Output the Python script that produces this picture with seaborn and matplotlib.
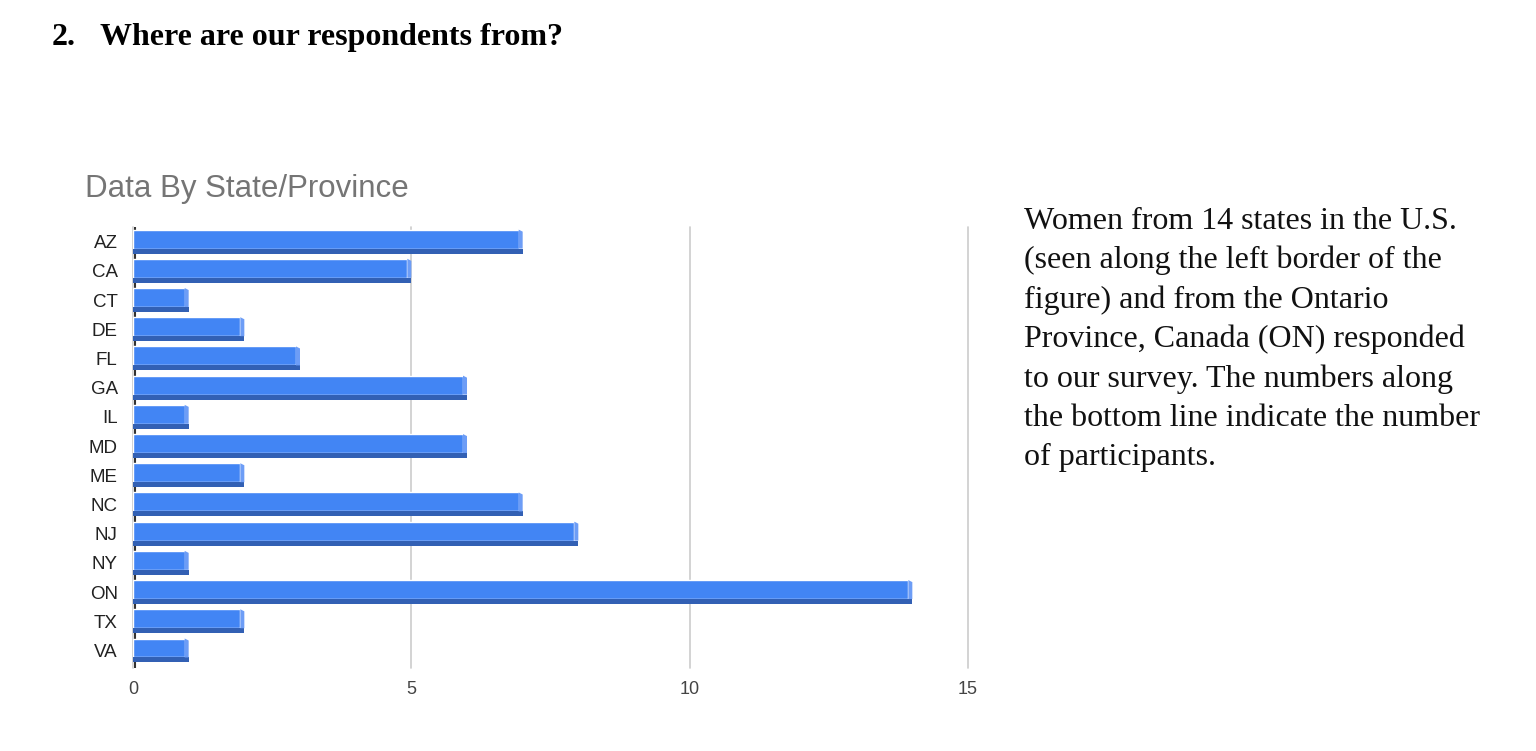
import matplotlib
matplotlib.use("Agg")
import matplotlib.pyplot as plt
import seaborn as sns
from matplotlib.patches import Rectangle, Polygon

# data
states = ["AZ", "CA", "CT", "DE", "FL", "GA", "IL", "MD",
          "ME", "NC", "NJ", "NY", "ON", "TX", "VA"]
counts = [7, 5, 1, 2, 3, 6, 1, 6, 2, 7, 8, 1, 14, 2, 1]
x_ticks = [0, 5, 10, 15]

heading_num = "2."
heading = "Where are our respondents from?"
chart_title = "Data By State/Province"
note_lines = [
    "Women from 14 states in the U.S.",
    "(seen along the left border of the",
    "figure) and from the Ontario",
    "Province, Canada (ON) responded",
    "to our survey. The numbers along",
    "the bottom line indicate the number",
    "of participants.",
]

BLUE = "#4285f4"
DARK = "#3260b4"
LIGHT = "#6d9df6"

sns.set_style("white")
plt.rcParams["font.family"] = ["Liberation Sans", "DejaVu Sans"]
plt.rcParams["text.color"] = "black"

fig = plt.figure(figsize=(15.36, 7.51), dpi=100)
ax = fig.add_axes([133 / 1536, 83 / 751, 835 / 1536, 441 / 751])

sns.barplot(
    x=counts,
    y=states,
    color=BLUE,
    width=0.82,
    saturation=1,
    ax=ax,
    zorder=3
)

ax.set_xlim(0, 15)
ax.set_ylim(14.6, -0.5)

# fake 3D look: dark bottom edge + lighter right face
dx = 4 * 15 / 835
dh = 5 * 15.1 / 441
dy = 2 * 15.1 / 441
for p in list(ax.patches):
    x0, y0 = p.get_x(), p.get_y()
    w, h = p.get_width(), p.get_height()
    p.set_width(w - dx)
    p.set_height(h - dh)
    ax.add_patch(Rectangle((x0, y0 + h - dh), w, dh,
                           facecolor=DARK, edgecolor="none", zorder=3))
    ax.add_patch(Polygon([(x0 + w - dx, y0), (x0 + w, y0 + dy),
                          (x0 + w, y0 + h - dh), (x0 + w - dx, y0 + h - dh)],
                         closed=True, facecolor=LIGHT, edgecolor="none",
                         zorder=3))

ax.set_xticks(x_ticks)
ax.xaxis.grid(True, color="#cccccc", linewidth=1.2)
for gl in ax.get_xgridlines():
    gl.set_clip_on(False)
ax.set_axisbelow(True)
ax.axvline(0, color="#e6e6e6", linewidth=4, zorder=1)
ax.axvline(0.03, color="#333333", linewidth=1.5, zorder=2)

for s in ax.spines.values():
    s.set_visible(False)

ax.tick_params(axis="x", length=0, pad=9, labelsize=13, labelcolor="#444444")
ax.tick_params(axis="y", length=0, pad=11, labelsize=13.5, labelcolor="#222222")
ax.set_xlabel("")
ax.set_ylabel("")

fig.text(85 / 1536, 1 - 197 / 751, chart_title, fontsize=22.5,
         color="#757575", ha="left", va="baseline")

fig.text(52 / 1536, 1 - 45 / 751, heading_num, fontsize=23,
         fontweight="bold", family="Liberation Serif", va="baseline")
fig.text(100 / 1536, 1 - 45 / 751, heading, fontsize=23,
         fontweight="bold", family="Liberation Serif", va="baseline")

for i, line in enumerate(note_lines):
    fig.text(1024 / 1536, 1 - (229 + 39.4 * i) / 751, line, fontsize=23,
             family="Liberation Serif", va="baseline", color="#111111")

fig.savefig("out.png", dpi=100, facecolor="white")
